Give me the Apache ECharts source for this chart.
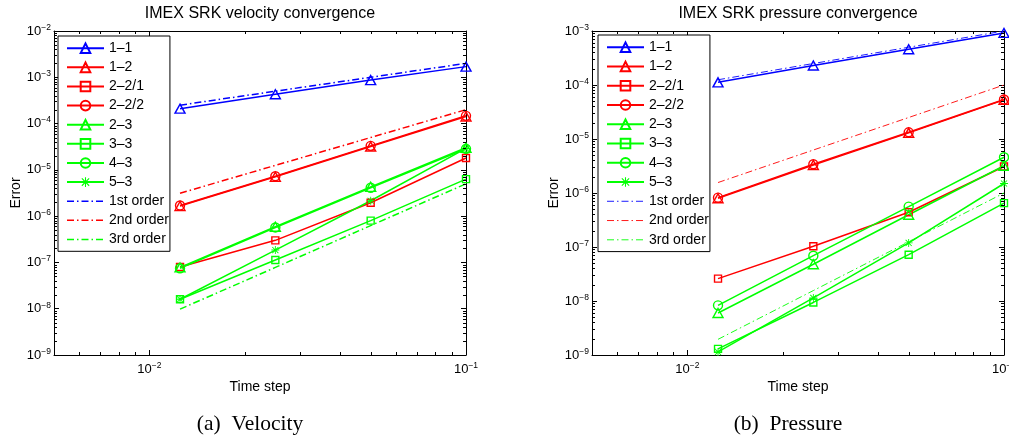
<!DOCTYPE html>
<html><head><meta charset="utf-8">
<script src="https://cdn.jsdelivr.net/npm/echarts@6/dist/echarts.min.js"></script>
<style>html,body{margin:0;padding:0;background:#fff}#c{width:1009px;height:440px}</style>
</head><body><div id="c"></div>
<script>
// ---------- data ----------
const timeSteps = [0.0125, 0.025, 0.05, 0.1];
const xTickExps = [-2, -1];
const velYTickExps = [-9, -8, -7, -6, -5, -4, -3, -2];
const preYTickExps = [-9, -8, -7, -6, -5, -4, -3];
const seriesNames = ['1\u20131', '1\u20132', '2\u20132/1', '2\u20132/2', '2\u20133', '3\u20133', '4\u20133', '5\u20133', '1st order', '2nd order', '3rd order'];
const titles = ['IMEX SRK velocity convergence', 'IMEX SRK pressure convergence'];
const captions = ['(a)  Velocity', '(b)  Pressure'];

// velocity errors
const vel_1_1   = [2.1e-4, 4.3e-4, 8.7e-4, 1.7e-3];
const vel_1_2   = [1.65e-6, 7.1e-6, 3.2e-5, 1.42e-4];
const vel_2_2_1 = [8.0e-8, 3.0e-7, 1.95e-6, 1.8e-5];
const vel_2_2_2 = [1.7e-6, 7.3e-6, 3.3e-5, 1.47e-4];
const vel_2_3   = [7.8e-8, 5.9e-7, 4.3e-6, 3.0e-5];
const vel_3_3   = [1.6e-8, 1.13e-7, 8.0e-7, 6.3e-6];
const vel_4_3   = [7.5e-8, 5.7e-7, 4.1e-6, 2.85e-5];
const vel_5_3   = [1.6e-8, 1.85e-7, 2.15e-6, 2.9e-5];
const vel_ord1  = [2.5e-4, 5.0e-4, 1.0e-3, 2.0e-3];
const vel_ord2  = [3.125e-6, 1.25e-5, 5.0e-5, 2.0e-4];
const vel_ord3  = [9.8e-9, 7.8e-8, 6.25e-7, 5.0e-6];

// pressure errors
const pre_1_1   = [1.12e-4, 2.3e-4, 4.6e-4, 9.2e-4];
const pre_1_2   = [8.0e-7, 3.3e-6, 1.3e-5, 5.3e-5];
const pre_2_2_1 = [2.6e-8, 1.03e-7, 4.4e-7, 3.1e-6];
const pre_2_2_2 = [8.2e-7, 3.4e-6, 1.33e-5, 5.4e-5];
const pre_2_3   = [6.0e-9, 4.8e-8, 3.95e-7, 3.2e-6];
const pre_3_3   = [1.3e-9, 9.4e-9, 7.2e-8, 6.5e-7];
const pre_4_3   = [8.3e-9, 6.9e-8, 5.6e-7, 4.6e-6];
const pre_5_3   = [1.14e-9, 1.14e-8, 1.19e-7, 1.5e-6];
const pre_ord1  = [1.25e-4, 2.5e-4, 5.0e-4, 1.0e-3];
const pre_ord2  = [1.5625e-6, 6.25e-6, 2.5e-5, 1.0e-4];
const pre_ord3  = [1.95e-9, 1.56e-8, 1.25e-7, 1.0e-6];

const velData = [vel_1_1, vel_1_2, vel_2_2_1, vel_2_2_2, vel_2_3, vel_3_3, vel_4_3, vel_5_3, vel_ord1, vel_ord2, vel_ord3];
const preData = [pre_1_1, pre_1_2, pre_2_2_1, pre_2_2_2, pre_2_3, pre_3_3, pre_4_3, pre_5_3, pre_ord1, pre_ord2, pre_ord3];

// ---------- styles ----------
const FONT = "'Liberation Sans', Arial, Helvetica, sans-serif";
const BLUE = '#0000ff', RED = '#ff0000', GREEN = '#00ff00';
const ASTER = 'path://M4.45 0H5.55V10H4.45Z M0 4.45H10V5.55H0Z M1.6 0.8L9.2 8.4L8.4 9.2L0.8 1.6Z M8.4 0.8L9.2 1.6L1.6 9.2L0.8 8.4Z';
const DASHDOT = [7, 3, 1.5, 3];
const styles = [
  {color: BLUE, symbol: 'triangle', size: [10, 9]},
  {color: RED, symbol: 'triangle', size: [10, 9]},
  {color: RED, symbol: 'rect', size: 7},
  {color: RED, symbol: 'circle', size: 9},
  {color: GREEN, symbol: 'triangle', size: [10, 9]},
  {color: GREEN, symbol: 'rect', size: 7},
  {color: GREEN, symbol: 'circle', size: 9},
  {color: GREEN, symbol: 'aster', size: 8},
  {color: BLUE, ref: true},
  {color: RED, ref: true},
  {color: GREEN, ref: true}
];

const xMin = 0.005, xMax = Math.pow(10, Math.max(...xTickExps));
const velYMin = Math.pow(10, Math.min(...velYTickExps)), velYMax = Math.pow(10, Math.max(...velYTickExps));
const preYMin = Math.pow(10, Math.min(...preYTickExps)), preYMax = Math.pow(10, Math.max(...preYTickExps));

function powLabel(v) {
  const e = Math.log10(v), r = Math.round(e);
  if (Math.abs(e - r) > 1e-6) return '';
  return '{a|10}{b|' + (r < 0 ? '\u2212' : '') + Math.abs(r) + '}';
}
const labelRich = {
  a: {fontSize: 13, fontFamily: FONT, color: '#000', lineHeight: 16},
  b: {fontSize: 8.5, fontFamily: FONT, color: '#000', lineHeight: 8, verticalAlign: 'top'}
};

function buildSeries(dataSets, xIdx, yIdx, refWidth) {
  return dataSets.map((vals, i) => {
    const st = styles[i];
    const s = {
      type: 'line', name: seriesNames[i], xAxisIndex: xIdx, yAxisIndex: yIdx,
      data: timeSteps.map((h, k) => [h, vals[k]]),
      animation: false, silent: true, emphasis: {disabled: true}
    };
    if (st.ref) {
      s.symbol = 'none';
      s.lineStyle = {color: st.color, width: refWidth, type: DASHDOT};
      s.itemStyle = {color: st.color};
      s.z = 3;
    } else {
      s.symbol = st.symbol === 'aster' ? ASTER : st.symbol;
      s.symbolSize = st.size;
      s.showSymbol = true;
      s.lineStyle = {color: st.color, width: 1.5};
      s.itemStyle = st.symbol === 'aster'
        ? {color: st.color, borderWidth: 0}
        : {color: 'rgba(0,0,0,0)', borderColor: st.color, borderWidth: 1.4};
    }
    return s;
  });
}

function minorTicks(xIdx, yIdx, yMin, yMax) {
  return {
    type: 'custom', xAxisIndex: xIdx, yAxisIndex: yIdx, silent: true, z: 6, clip: false,
    animation: false,
    data: [[0.01, Math.sqrt(yMin * yMax)]],
    renderItem: function (params, api) {
      const cs = params.coordSys;
      const L = cs.x, R = cs.x + cs.width, T = cs.y, B = cs.y + cs.height;
      const ch = [];
      const ln = (x1, y1, x2, y2) => ch.push({type: 'line', shape: {x1, y1, x2, y2}, style: {stroke: '#000', lineWidth: 1}});
      const n = 3;
      for (let e = -4; e <= 0; e++) for (let m = 2; m <= 9; m++) {
        const v = m * Math.pow(10, e);
        if (v > xMin && v < xMax) {
          const px = Math.round(api.coord([v, yMin])[0]) + 0.5;
          ln(px, B, px, B - n); ln(px, T, px, T + n);
        }
      }
      for (let e = -10; e <= 0; e++) for (let m = 2; m <= 9; m++) {
        const v = m * Math.pow(10, e);
        if (v > yMin && v < yMax) {
          const py = Math.round(api.coord([0.01, v])[1]) + 0.5;
          ln(L, py, L + n, py); ln(R, py, R - n, py);
        }
      }
      return {type: 'group', children: ch};
    }
  };
}

function xAxes(grid) {
  const base = {
    gridIndex: grid, type: 'log', logBase: 10, min: xMin, max: xMax,
    axisLine: {show: true, onZero: false, lineStyle: {color: '#000', width: 1}},
    axisTick: {show: true, inside: true, length: 5, lineStyle: {color: '#000', width: 1}},
    splitLine: {show: false}, minorTick: {show: false}
  };
  return [
    Object.assign({}, base, {position: 'bottom',
      axisLabel: {show: true, margin: 6, formatter: powLabel, rich: labelRich, alignMaxLabel: 'center', alignMinLabel: 'center'},
      name: 'Time step', nameLocation: 'middle', nameGap: 21,
      nameTextStyle: {fontSize: 14, fontFamily: FONT, color: '#000'}}),
    Object.assign({}, base, {position: 'top', axisLabel: {show: false}})
  ];
}
function yAxes(grid, yMin, yMax) {
  const base = {
    gridIndex: grid, type: 'log', logBase: 10, min: yMin, max: yMax,
    axisLine: {show: true, onZero: false, lineStyle: {color: '#000', width: 1}},
    axisTick: {show: true, inside: true, length: 5, lineStyle: {color: '#000', width: 1}},
    splitLine: {show: false}, minorTick: {show: false}
  };
  return [
    Object.assign({}, base, {position: 'left',
      axisLabel: {show: true, margin: 3, formatter: powLabel, rich: labelRich},
      name: 'Error', nameLocation: 'middle', nameGap: 31,
      nameTextStyle: {fontSize: 14, fontFamily: FONT, color: '#000'}}),
    Object.assign({}, base, {position: 'right', axisLabel: {show: false}})
  ];
}

function legendData(refWidth) {
  return seriesNames.map((n, i) => styles[i].ref
    ? {name: n, itemStyle: {color: 'rgba(0,0,0,0)', borderColor: 'rgba(0,0,0,0)', borderWidth: 0, opacity: 0},
       lineStyle: {width: refWidth}}
    : {name: n});
}
function legend(left, top, gap, refWidth) {
  return {
    orient: 'vertical', left: left, top: top, itemWidth: 37, itemHeight: 12, itemGap: gap,
    padding: [5.2, 1, 4.8, 8], backgroundColor: '#fff', borderColor: '#000', borderWidth: 1,
    borderRadius: 0, selectedMode: false,
    textStyle: {fontSize: 14, fontFamily: FONT, color: '#000', lineHeight: 12},
    data: legendData(refWidth)
  };
}

const chart = echarts.init(document.getElementById('c'), null, {renderer: 'canvas'});
chart.setOption({
  animation: false,
  backgroundColor: '#fff',
  title: [
    {text: titles[0], left: 260, top: 6, textAlign: 'center', padding: 0,
     textStyle: {fontSize: 16, fontWeight: 'normal', fontFamily: FONT, color: '#000'}},
    {text: titles[1], left: 798, top: 6, textAlign: 'center', padding: 0,
     textStyle: {fontSize: 16, fontWeight: 'normal', fontFamily: FONT, color: '#000'}}
  ],
  grid: [
    {left: 54, top: 31, width: 412, height: 324, containLabel: false, outerBoundsMode: 'none', show: false},
    {left: 592, top: 31, width: 412, height: 324, containLabel: false, outerBoundsMode: 'none', show: false}
  ],
  xAxis: xAxes(0).concat(xAxes(1)),
  yAxis: yAxes(0, velYMin, velYMax).concat(yAxes(1, preYMin, preYMax)),
  legend: [legend(58, 36, 5.13, 1.5), legend(598, 35, 5.26, 0.9)],
  series: buildSeries(velData, 0, 0, 1.5)
    .concat(buildSeries(preData, 2, 2, 0.9))
    .concat([minorTicks(0, 0, velYMin, velYMax), minorTicks(2, 2, preYMin, preYMax)]),
  graphic: [
    {type: 'text', x: 250, y: 424, style: {text: captions[0], font: "21.5px 'Liberation Serif', 'Times New Roman', serif", fill: '#000', align: 'center', verticalAlign: 'middle'}},
    {type: 'text', x: 788, y: 424, style: {text: captions[1], font: "21.5px 'Liberation Serif', 'Times New Roman', serif", fill: '#000', align: 'center', verticalAlign: 'middle'}}
  ]
});
</script>
</body></html>
